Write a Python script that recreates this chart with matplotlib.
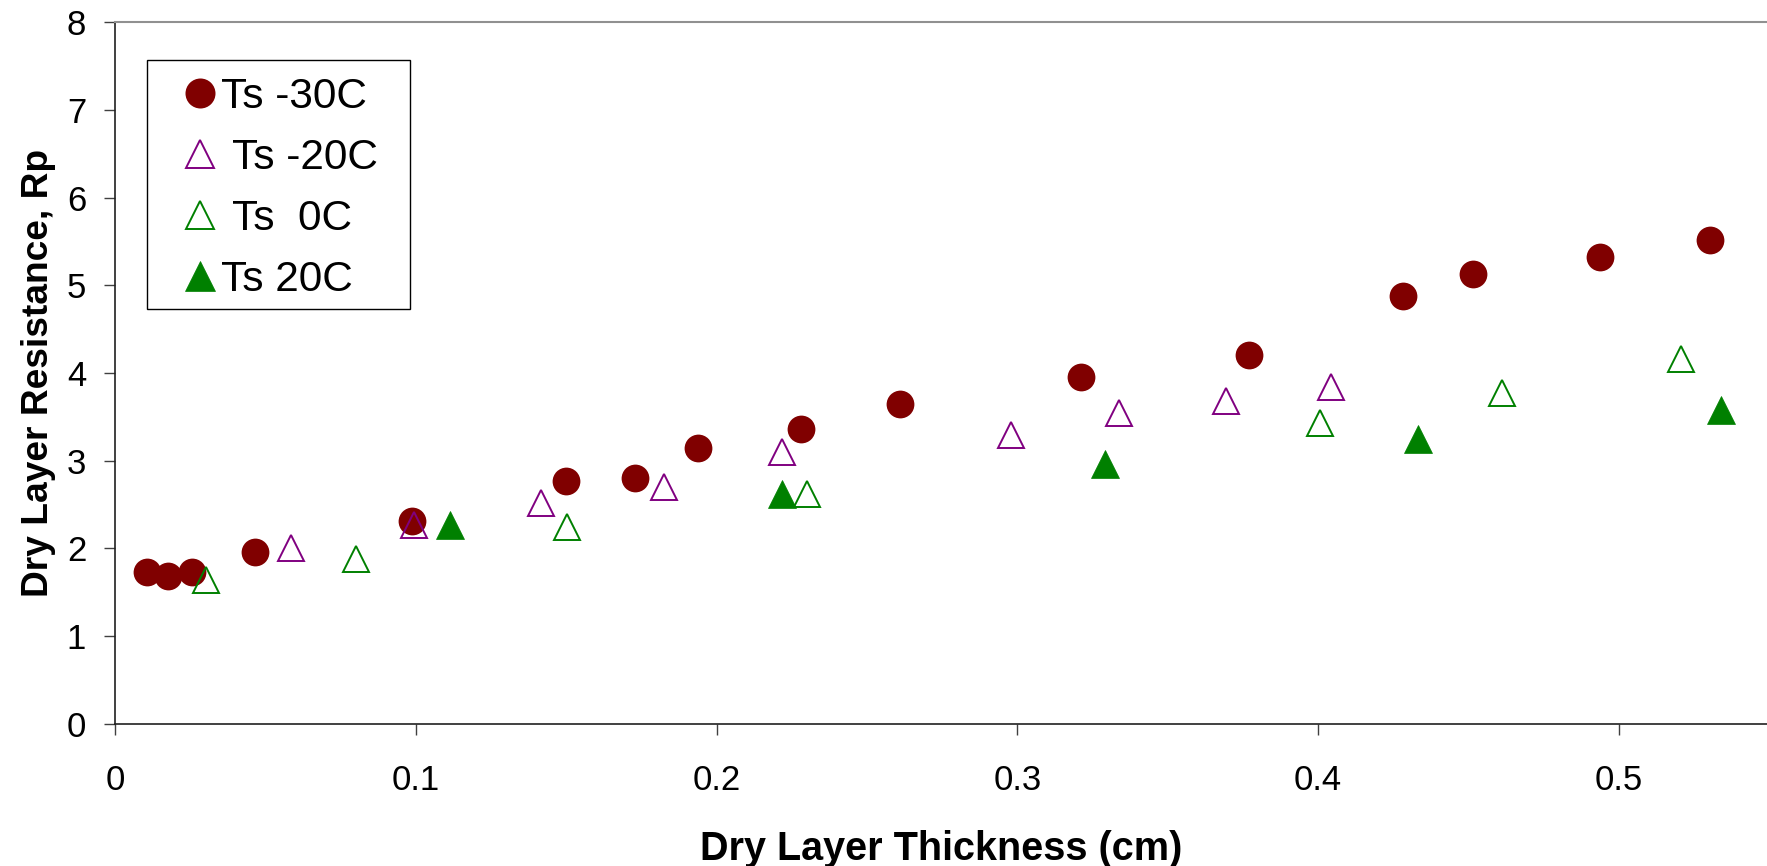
import matplotlib
matplotlib.use('Agg')
import matplotlib.pyplot as plt
from matplotlib.patches import Rectangle

plt.rcParams['font.family'] = ['Liberation Sans', 'DejaVu Sans']

# Ts -30C (filled circles)
x_m30 = [0.0104, 0.0174, 0.0254, 0.0465, 0.0988, 0.1498, 0.1727, 0.1937, 0.2280,
         0.2610, 0.3210, 0.3770, 0.4283, 0.4515, 0.4937, 0.5302]
y_m30 = [1.726, 1.68, 1.726, 1.961, 2.308, 2.77, 2.80, 3.15, 3.36,
         3.65, 3.95, 4.20, 4.873, 5.131, 5.325, 5.519]

# Ts -20C (open purple triangles)
x_m20 = [0.0585, 0.0993, 0.1415, 0.1825, 0.2218, 0.2979, 0.3338, 0.3694, 0.4044]
y_m20 = [2.007, 2.262, 2.52, 2.70, 3.10, 3.29, 3.54, 3.68, 3.836]

# Ts 0C (open green triangles)
x_0 = [0.0302, 0.0799, 0.1503, 0.2301, 0.4007, 0.4610, 0.5208]
y_0 = [1.636, 1.878, 2.24, 2.62, 3.425, 3.773, 4.158]

# Ts 20C (filled green triangles)
x_20 = [0.1112, 0.2218, 0.3290, 0.4333, 0.5340]
y_20 = [2.262, 2.62, 2.96, 3.25, 3.577]

labels = ['Ts -30C', ' Ts -20C', ' Ts  0C', 'Ts 20C']

dark_red = '#800000'
purple = '#800080'
green = '#008000'

W, H = 1767, 866
fig = plt.figure(figsize=(W / 100, H / 100), dpi=100)
ax = fig.add_axes([115.3 / W, 1 - 723.7 / H, 1 - 115.3 / W, (723.7 - 22.3) / H])

ax.plot(x_m30, y_m30, linestyle='none', marker='o', markersize=20,
        color=dark_red, markeredgewidth=0, label=labels[0])
ax.plot(x_m20, y_m20, linestyle='none', marker='^', markersize=18.5,
        markerfacecolor='none', markeredgecolor=purple, markeredgewidth=1.4, label=labels[1])
ax.plot(x_0, y_0, linestyle='none', marker='^', markersize=18.5,
        markerfacecolor='none', markeredgecolor=green, markeredgewidth=1.4, label=labels[2])
ax.plot(x_20, y_20, linestyle='none', marker='^', markersize=19.5,
        color=green, markeredgewidth=0.5, label=labels[3])

ax.set_xlim(0, (W - 115.3) / 3007)
ax.set_ylim(0, 8)
ax.set_xticks([0, 0.1, 0.2, 0.3, 0.4, 0.5])
ax.set_xticklabels(['0', '0.1', '0.2', '0.3', '0.4', '0.5'])
ax.set_yticks(range(0, 9))

ax.tick_params(axis='both', direction='out', length=8, width=1, color='#404040', labelsize=25)
ax.tick_params(axis='x', pad=21)
ax.tick_params(axis='y', pad=13)

ax.spines['right'].set_visible(False)
ax.spines['top'].set_color('#909090')
ax.spines['top'].set_linewidth(1.5)
ax.spines['left'].set_linewidth(1.2)
ax.spines['bottom'].set_linewidth(1.2)
ax.spines['left'].set_color('#202020')
ax.spines['bottom'].set_color('#202020')

ax.set_xlabel('Dry Layer Thickness (cm)', fontsize=28.5, fontweight='bold', labelpad=24)
ax.set_ylabel('Dry Layer Resistance, Rp', fontsize=26.7, fontweight='bold', labelpad=8)

# legend box drawn separately so its size matches the original
box_l, box_t, box_r, box_b = 147.3, 60.3, 410.0, 309.3
ax.add_patch(Rectangle((box_l / W, 1 - box_b / H), (box_r - box_l) / W, (box_b - box_t) / H,
                       transform=fig.transFigure, facecolor='white', edgecolor='black',
                       linewidth=1.0, zorder=3, clip_on=False))
leg = ax.legend(loc='upper left', bbox_to_anchor=(box_l / W, 1 - (box_t + 2.5) / H),
                bbox_transform=fig.transFigure, fontsize=30.5, frameon=False,
                borderpad=0.33, labelspacing=0.5, markerscale=1.08,
                handlelength=1.84, handletextpad=-0.42, borderaxespad=0, numpoints=1)
leg.set_zorder(5)

fig.savefig('out.png', dpi=100)
